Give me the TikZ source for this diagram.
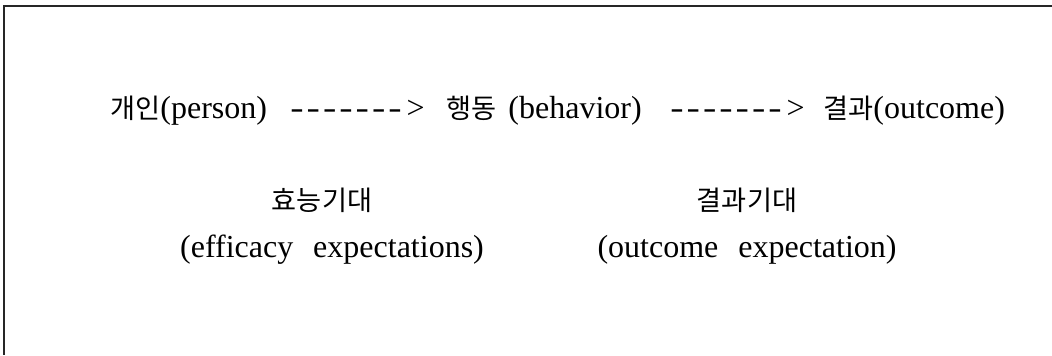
\documentclass[tikz,border=0pt]{standalone}
\usepackage{fontspec}
\setmainfont{Liberation Serif}
\newfontfamily\kr{Noto Sans CJK KR}[Scale=0.85]
\usetikzlibrary{positioning}
% dashed text arrow, hyphens kept apart
\newcommand{\dashes}{\foreach \k in {1,...,7}{\scalebox{1.25}[1]{-}\kern1.5pt}\kern1pt>}
\tikzset{
  frame/.style = {line width=1pt, draw=black!85},
  lbl/.style   = {inner sep=0pt, anchor=base west, font=\fontsize{16}{19}\selectfont},
  mid/.style   = {lbl, anchor=base},
}
\begin{document}
\begin{tikzpicture}[x=0.5pt, y=-0.5pt]
  \useasboundingbox (0,0) rectangle (1052,355);
  \draw[frame] (1052,6) -- (4,6) -- (4,355);
  % main chain
  \node[lbl] (person)   at (110,118) {{\kr 개인}(person)};
  \node[lbl] (arrowpb)  at (290,118) {\dashes};
  \node[lbl] (behavior) at (446,118) {{\kr 행동}\hspace{6pt}(behavior)};
  \node[lbl] (arrowbo)  at (670,118) {\dashes};
  \node[lbl] (outcome)  at (823,118) {{\kr 결과}(outcome)};
  % expectations
  \node[mid] (effkr) at (322,210) {\kr 효능기대};
  \node[mid] (effen) at (332,257) {(efficacy\hspace{10pt}expectations)};
  \node[mid] (outkr) at (747,210) {\kr 결과기대};
  \node[mid] (outen) at (747,257) {(outcome\hspace{10pt}expectation)};
\end{tikzpicture}
\end{document}
